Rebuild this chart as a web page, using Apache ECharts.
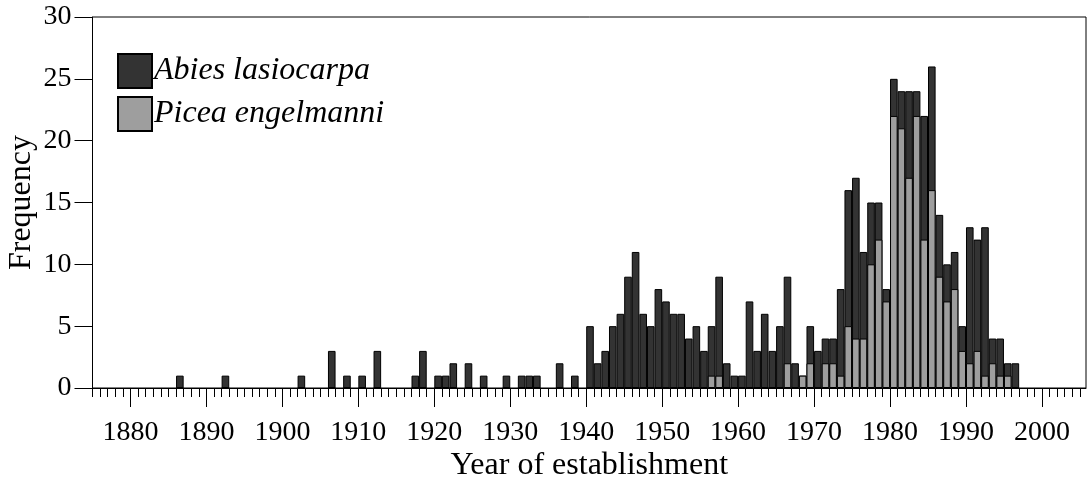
<!DOCTYPE html>
<html>
<head>
<meta charset="utf-8">
<script src="https://cdn.jsdelivr.net/npm/echarts@6/dist/echarts.min.js"></script>
<style>
  html, body { margin: 0; padding: 0; background: #fff; }
  #chart { width: 1087px; height: 483px; }
</style>
</head>
<body>
<div id="chart"></div>
<script>
// years that have at least one tree
var years = [1886, 1892, 1902, 1906, 1908, 1910, 1912, 1917, 1918, 1920,
  1921, 1922, 1924, 1926, 1929, 1931, 1932, 1933, 1936, 1938,
  1940, 1941, 1942, 1943, 1944, 1945, 1946, 1947, 1948, 1949,
  1950, 1951, 1952, 1953, 1954, 1955, 1956, 1957, 1958, 1959,
  1960, 1961, 1962, 1963, 1964, 1965, 1966, 1967, 1968, 1969,
  1970, 1971, 1972, 1973, 1974, 1975, 1976, 1977, 1978, 1979,
  1980, 1981, 1982, 1983, 1984, 1985, 1986, 1987, 1988, 1989,
  1990, 1991, 1992, 1993, 1994, 1995, 1996];
var abies = [1, 1, 1, 3, 1, 1, 3, 1, 3, 1,
  1, 2, 2, 1, 1, 1, 1, 1, 2, 1,
  5, 2, 3, 5, 6, 9, 11, 6, 5, 8,
  7, 6, 6, 4, 5, 3, 4, 8, 2, 1,
  1, 7, 3, 6, 3, 5, 7, 2, 0, 3,
  3, 2, 2, 7, 11, 13, 7, 5, 3, 1,
  3, 3, 7, 2, 10, 10, 5, 3, 3, 2,
  11, 9, 12, 2, 3, 1, 2];
var picea = [0, 0, 0, 0, 0, 0, 0, 0, 0, 0,
  0, 0, 0, 0, 0, 0, 0, 0, 0, 0,
  0, 0, 0, 0, 0, 0, 0, 0, 0, 0,
  0, 0, 0, 0, 0, 0, 1, 1, 0, 0,
  0, 0, 0, 0, 0, 0, 2, 0, 1, 2,
  0, 2, 2, 1, 5, 4, 4, 10, 12, 7,
  22, 21, 17, 22, 12, 16, 9, 7, 8, 3,
  2, 3, 1, 2, 1, 1, 0];
var decadeLabels = [1880, 1890, 1900, 1910, 1920, 1930, 1940, 1950, 1960, 1970, 1980, 1990, 2000];
var yTicks = [0, 5, 10, 15, 20, 25, 30];

var xMin = 1875, xMax = 2005.8;
var gridLeft = 92.5, gridRight = 1, gridTop = 17, gridBottom = 95;
var barW = (1087 - gridLeft - gridRight) / (xMax - xMin);

// every year gets a short tick
var yearTicks = [];
for (var y = 1875; y <= 2005; y++) yearTicks.push(y);

var font = "'Liberation Serif', 'Times New Roman', serif";

// bars span [year, year+1], so centre them half a year on.
// value-axis bars don't stack here, so the dark bar is drawn at the
// combined height and the grey one laid over its lower part
function toPairs(vals, under) {
  return years.map(function (yr, i) {
    return [yr + 0.5, vals[i] + (under ? under[i] : 0)];
  });
}

var chart = echarts.init(document.getElementById('chart'));
chart.setOption({
  animation: false,
  textStyle: { fontFamily: font, color: '#000' },
  grid: {
    left: gridLeft, right: gridRight, top: gridTop, bottom: gridBottom,
    outerBoundsMode: 'none', containLabel: false,
    show: true, borderColor: '#000', borderWidth: 1, backgroundColor: 'transparent'
  },
  legend: {
    orient: 'vertical',
    left: 117, top: 53, padding: 0,
    itemWidth: 34, itemHeight: 34, itemGap: 7,
    icon: 'rect',
    data: ['Abies lasiocarpa', 'Picea engelmanni'],
    textStyle: { fontFamily: font, fontSize: 32, fontStyle: 'italic', color: '#000', padding: [4, 0, 0, -3] }
  },
  xAxis: [
    {
      type: 'value', min: xMin, max: xMax,
      name: 'Year of establishment', nameLocation: 'middle', nameGap: 62, nameMoveOverlap: false,
      nameTextStyle: { fontFamily: font, fontSize: 32, color: '#000' },
      axisLine: { show: true, onZero: false, lineStyle: { color: '#000', width: 1 } },
      axisTick: { show: true, length: 19, customValues: decadeLabels, lineStyle: { color: '#000', width: 1 } },
      axisLabel: {
        show: true, customValues: decadeLabels, margin: 31, fontSize: 28, fontFamily: font, color: '#000',
        formatter: function (v) { return String(v); }
      },
      splitLine: { show: false }
    },
    {
      type: 'value', min: xMin, max: xMax, position: 'bottom',
      axisLine: { show: false },
      axisTick: { show: true, length: 9, customValues: yearTicks, lineStyle: { color: '#000', width: 1 } },
      axisLabel: { show: false },
      splitLine: { show: false }
    }
  ],
  yAxis: {
    type: 'value', min: 0, max: 30, interval: 5,
    name: 'Frequency', nameLocation: 'middle', nameGap: 55, nameMoveOverlap: false,
    nameTextStyle: { fontFamily: font, fontSize: 32, color: '#000' },
    axisLine: { show: true, lineStyle: { color: '#000', width: 1 } },
    axisTick: { show: true, length: 18, customValues: yTicks, lineStyle: { color: '#000', width: 1 } },
    axisLabel: { margin: 21, fontSize: 28, fontFamily: font, color: '#000', customValues: yTicks },
    splitLine: { show: false }
  },
  series: [
    {
      name: 'Abies lasiocarpa', type: 'bar', xAxisIndex: 0,
      barWidth: barW, barGap: '-100%',
      itemStyle: { color: '#333333', borderColor: '#000', borderWidth: 1 },
      data: toPairs(abies, picea)
    },
    {
      name: 'Picea engelmanni', type: 'bar', xAxisIndex: 0,
      barWidth: barW, barGap: '-100%',
      itemStyle: { color: '#9e9e9e', borderColor: '#000', borderWidth: 1 },
      data: toPairs(picea)
    }
  ]
});
</script>
</body>
</html>
